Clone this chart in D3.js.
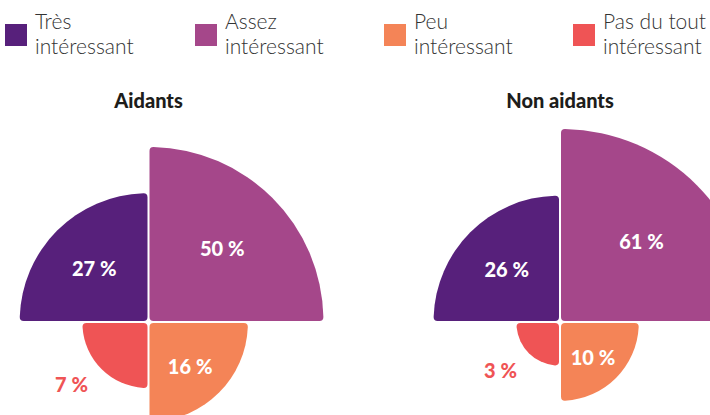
<!DOCTYPE html>
<html>
<head>
<meta charset="utf-8">
<script src="https://cdn.jsdelivr.net/npm/d3@7"></script>
<style>
  body { margin: 0; background: #fff; }
  svg { display: block; font-family: Lato, "Noto Sans", sans-serif; }
</style>
</head>
<body>
<div id="chart"></div>
<script>
// data
var categories = ["Très intéressant", "Assez intéressant", "Peu intéressant", "Pas du tout intéressant"];
var legendLines = [["Très", "intéressant"], ["Assez", "intéressant"], ["Peu", "intéressant"], ["Pas du tout", "intéressant"]];
var colors = ["#57207b", "#a5478a", "#f48457", "#ef5455"];
var groups = ["Aidants", "Non aidants"];
var aidants = [27, 50, 16, 7];
var nonAidants = [26, 61, 10, 3];

var width = 710, height = 415;

var svg = d3.select("#chart").append("svg")
	.attr("width", width)
	.attr("height", height);

// radius proportional to sqrt of the value
var rScale = d3.scaleSqrt().domain([0, 100]).range([0, 246]);

// quadrant directions: top-left, top-right, bottom-right, bottom-left
var quads = [[-1, -1], [1, -1], [1, 1], [-1, 1]];

// rounded quarter disc with the right angle at (0,0), drawn in the top-right, then flipped
function quarter(r, c)
{
	var s = Math.sqrt(r * r - c * c);
	var p = d3.path();
	p.moveTo(0, -c);
	p.quadraticCurveTo(0, 0, c, 0);
	p.lineTo(r - c, 0);
	p.quadraticCurveTo(r, 0, s, -c);
	p.arc(0, 0, r, Math.atan2(-c, s), Math.atan2(-s, c), true);
	p.quadraticCurveTo(0, -r, 0, -r + c);
	p.closePath();
	return p.toString();
}

// legend
var legendX = [5, 195, 384, 573];
var legend = svg.selectAll(".legend")
	.data(categories)
	.enter().append("g")
	.attr("class", "legend")
	.attr("transform", function(d, i){ return "translate(" + legendX[i] + ",24)"; });

legend.append("rect")
	.attr("width", 22)
	.attr("height", 22)
	.attr("fill", function(d, i){ return colors[i]; });

legend.append("text")
	.attr("x", 30)
	.attr("y", 5)
	.style("font-size", "21px")
	.style("font-weight", 300)
	.style("fill", "#333")
	.selectAll("tspan")
	.data(function(d, i){ return legendLines[i]; })
	.enter().append("tspan")
		.attr("x", 30)
		.attr("dy", function(d, j){ return j == 0 ? 0 : 25; })
		.text(function(d){ return d; });

// one chart per group
var centers = [[148.5, 322], [560, 322]];
var datasets = [aidants, nonAidants];

groups.forEach(function(name, gi){
	var g = svg.append("g")
		.attr("transform", "translate(" + centers[gi][0] + "," + centers[gi][1] + ")");

	svg.append("text")
		.attr("x", centers[gi][0])
		.attr("y", 108)
		.attr("text-anchor", "middle")
		.style("font-size", "20px")
		.style("font-weight", 900)
		.style("fill", "#1d1d1b")
		.text(name);

	var vals = datasets[gi];

	g.selectAll("path")
		.data(vals)
		.enter().append("path")
		.attr("d", function(d){ return quarter(rScale(d), 4); })
		.attr("transform", function(d, i){
			var q = quads[i];
			return "translate(" + q[0] + "," + q[1] + ") scale(" + q[0] + "," + (-q[1]) + ")";
		})
		.attr("fill", function(d, i){ return colors[i]; });

	g.selectAll(".val")
		.data(vals)
		.enter().append("text")
		.attr("class", "val")
		.attr("text-anchor", "middle")
		.attr("dominant-baseline", "central")
		.attr("x", function(d, i){
			var r = rScale(d);
			if (d < 10) return -Math.cos(39 * Math.PI / 180) * (r + 34);
			return quads[i][0] * r * 0.6 * Math.SQRT1_2;
		})
		.attr("y", function(d, i){
			var r = rScale(d);
			if (d < 10) return Math.sin(39 * Math.PI / 180) * (r + 34);
			return quads[i][1] * r * 0.6 * Math.SQRT1_2 + (quads[i][1] > 0 ? 2 : 0);
		})
		.style("font-size", "20px")
		.style("font-weight", 900)
		.style("fill", function(d, i){ return d < 10 ? colors[i] : "#fff"; })
		.text(function(d){ return d + "\u202F%"; });
});
</script>
</body>
</html>
